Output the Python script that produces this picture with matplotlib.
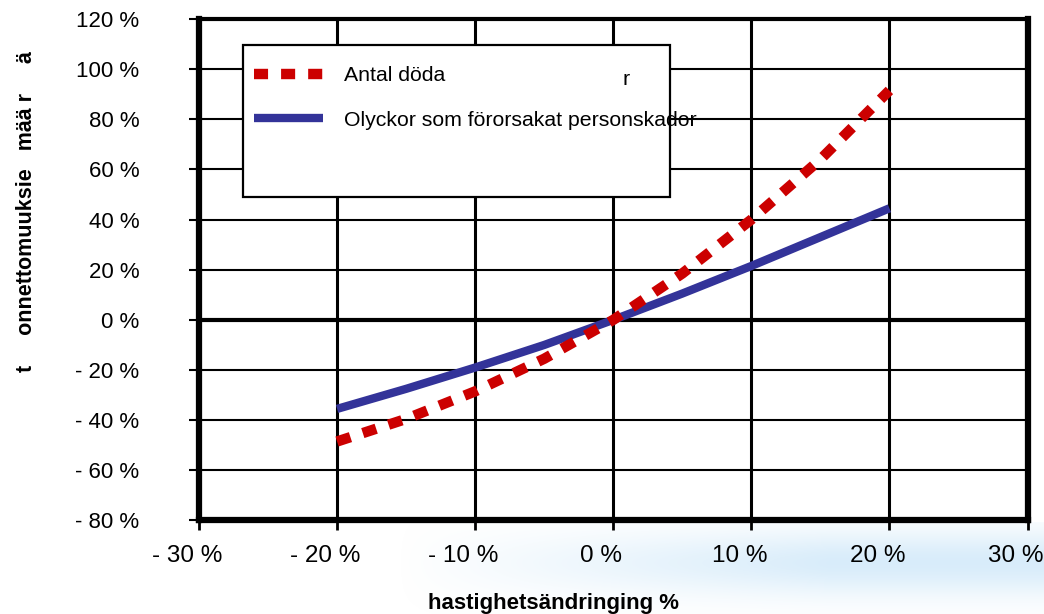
"""
Hastighetsändring vs. förändring i antal döda / olyckor med personskador.
"""
import matplotlib
matplotlib.use("Agg")
import matplotlib.pyplot as plt
import matplotlib.transforms as mtransforms
from matplotlib.patches import Rectangle
import numpy as np

plt.rcParams["font.family"] = ["Liberation Sans", "DejaVu Sans"]

# speed change (%) at which the curves were read
speed_change = [-20, -15, -10, -5, 0, 5, 10, 15, 20]
# Antal döda (% change)
deaths = [-48.5, -39.5, -28.5, -15.5, 0, 18.5, 40, 64, 91.5]
# Olyckor som förorsakat personskador (% change)
injury_crashes = [-35.5, -27.5, -19, -10, 0, 10.5, 21.5, 33, 44.5]

x_ticks = [-30, -20, -10, 0, 10, 20, 30]
x_tick_labels = ["- 30 %", "- 20 %", "- 10 %", "0 %", "10 %", "20 %", "30 %"]
y_ticks = [-80, -60, -40, -20, 0, 20, 40, 60, 80, 100, 120]
y_tick_labels = ["- 80 %", "- 60 %", "- 40 %", "- 20 %", "0 %", "20 %",
                 "40 %", "60 %", "80 %", "100 %", "120 %"]

RED = "#CC0000"
BLUE = "#333399"

fig = plt.figure(figsize=(10.44, 6.14), dpi=100)

# faint blue smear from the slide background, bottom right
bg = fig.add_axes([0.38, 0.0, 0.62, 0.15], zorder=-10)
gx = np.linspace(0, 1, 300)
gy = np.linspace(0, 1, 60)
GX, GY = np.meshgrid(gx, gy)
alpha = np.clip(GX * 1.5, 0, 1) * np.exp(-((GY - 0.45) / 0.35) ** 2) * 0.6
img = np.zeros((60, 300, 4))
img[..., 0] = 0.75
img[..., 1] = 0.88
img[..., 2] = 0.97
img[..., 3] = alpha
bg.imshow(img, aspect="auto", interpolation="bilinear")
bg.axis("off")

ax = fig.add_axes([0.1906, 0.1523, 0.7936, 0.8168])
ax.patch.set_alpha(0)

ax.plot(speed_change, deaths, color=RED, lw=7.5, ls=(0, (1.35, 1.25)),
        dash_capstyle="butt", solid_capstyle="butt", label="Antal döda", zorder=3)
ax.plot(speed_change, injury_crashes, color=BLUE, lw=6, solid_capstyle="butt",
        label="Olyckor som förorsakat personskador", zorder=2.9)

ax.set_xlim(-30, 30)
ax.set_ylim(-80, 120)
ax.set_xticks(x_ticks)
ax.set_xticklabels(x_tick_labels, fontsize=17.5)
ax.set_yticks(y_ticks)
ax.set_yticklabels(y_tick_labels, fontsize=16)

ax.tick_params(axis="x", direction="out", length=7, width=2, pad=11)
ax.tick_params(axis="y", direction="out", length=7, width=1.5, pad=36)
offset = mtransforms.ScaledTranslation(-12 / 100, 0, fig.dpi_scale_trans)
for lab in ax.get_xticklabels():
    lab.set_transform(lab.get_transform() + offset)

ax.xaxis.grid(True, color="black", lw=2.2)
ax.yaxis.grid(True, color="black", lw=1.5)
ax.axhline(0, color="black", lw=3, zorder=1)
ax.set_axisbelow(True)

for side in ["left", "bottom", "right"]:
    ax.spines[side].set_linewidth(4.5)
ax.spines["top"].set_linewidth(3)

# legend box (drawn bigger than its content, text runs past the right edge)
ax.add_patch(Rectangle((0.0531, 0.645), 0.5154, 0.303, transform=ax.transAxes,
                       facecolor="white", edgecolor="black", lw=1.6, zorder=4))
leg = ax.legend(loc="upper left", bbox_to_anchor=(0.0664, 0.906),
                frameon=False, fontsize=15.3, handlelength=3.25, handletextpad=1.0,
                labelspacing=1.2, borderpad=0, borderaxespad=0)
leg.set_zorder(5)
ax.text(0.511, 0.88, "r", transform=ax.transAxes, fontsize=15.3,
        va="center", ha="left", zorder=6)

fig.text(553 / 1044, 1 - 603 / 614, "hastighetsändringing %", fontsize=16,
         fontweight="bold", ha="center", va="center")
fig.text(27 / 1044, 1 - 212 / 614, "t     onnettomuuksie   mää r     ä",
         fontsize=15.5, fontweight="bold", rotation=90, ha="center", va="center")

fig.savefig("out.png", dpi=100)
